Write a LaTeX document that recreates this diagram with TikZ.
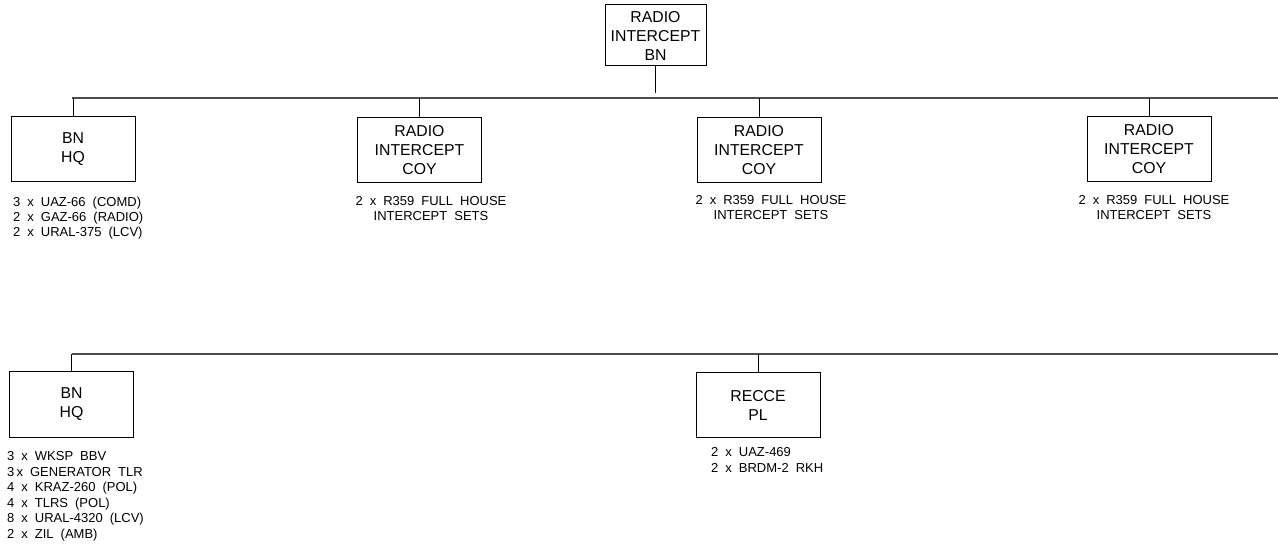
\documentclass[tikz,border=0pt]{standalone}
\usepackage{fontspec}
\setmainfont{Liberation Sans}
\begin{document}
\begin{tikzpicture}[x=1pt,y=-1pt,
  unitbox/.style={draw=black, line width=1pt, align=center, inner sep=0pt,
    font=\fontsize{15.8}{19}\selectfont, minimum width=124pt, minimum height=65pt},
  bus/.style={draw=black!70, line width=2.2pt},
  stub/.style={draw=black, line width=1pt},
  lst/.style={inner sep=0pt, font=\fontsize{13}{15}\selectfont,
    execute at begin node={\spaceskip=7pt plus 1pt minus 1pt\relax}},
  lstb/.style={lst, font=\fontsize{13}{15.5}\selectfont}
]
\useasboundingbox (0,0) rectangle (1278,545);

% top
\node[unitbox, minimum width=101pt, minimum height=61pt] (bn) at (655.5,35.5) {RADIO\\INTERCEPT\\BN};
\coordinate (bnend) at (655.5,93);
\draw[stub] (bn.south) -- (bnend);

% row 1
\coordinate (busAs) at (72,98);
\coordinate (busAe) at (1278,98);
\draw[bus] (busAs) -- (busAe);

\node[unitbox] (hq1) at (73,149.5) {BN\\HQ};
\node[unitbox] (coy1) at (419.5,150) {RADIO\\INTERCEPT\\COY};
\node[unitbox] (coy2) at (759,150) {RADIO\\INTERCEPT\\COY};
\node[unitbox] (coy3) at (1149,149.5) {RADIO\\INTERCEPT\\COY};
\foreach \n in {hq1,coy1,coy2,coy3}{
  \draw[stub] (\n.north) -- (\n.north |- busAs);
}

\node[lst, anchor=north west, align=left] (hq1t) at (13,197.3)
  {3 x UAZ-66 (COMD)\\2 x GAZ-66 (RADIO)\\2 x URAL-375 (LCV)};
\node[lst, anchor=north, align=center] (coy1t) at (431,196.3)
  {2 x R359 FULL HOUSE\\INTERCEPT SETS};
\node[lst, anchor=north, align=center] (coy2t) at (771,195.3)
  {2 x R359 FULL HOUSE\\INTERCEPT SETS};
\node[lst, anchor=north, align=center] (coy3t) at (1154,195.3)
  {2 x R359 FULL HOUSE\\INTERCEPT SETS};

% row 2
\coordinate (busBs) at (72,354);
\coordinate (busBe) at (1278,354);
\draw[bus] (busBs) -- (busBe);

\node[unitbox] (hq2) at (71.5,404.5) {BN\\HQ};
\node[unitbox] (recce) at (758,405) {RECCE\\PL};
\foreach \n in {hq2,recce}{
  \draw[stub] (\n.north) -- (\n.north |- busBs);
}

\node[lstb, anchor=north west, align=left] (hq2t) at (7,451.3)
  {3 x WKSP BBV\\3\,x GENERATOR TLR\\4 x KRAZ-260 (POL)\\4 x TLRS (POL)\\8 x URAL-4320 (LCV)\\2 x ZIL (AMB)};
\node[lstb, anchor=north west, align=left] (recct) at (711,447.3)
  {2 x UAZ-469\\2 x BRDM-2 RKH};
\end{tikzpicture}
\end{document}
